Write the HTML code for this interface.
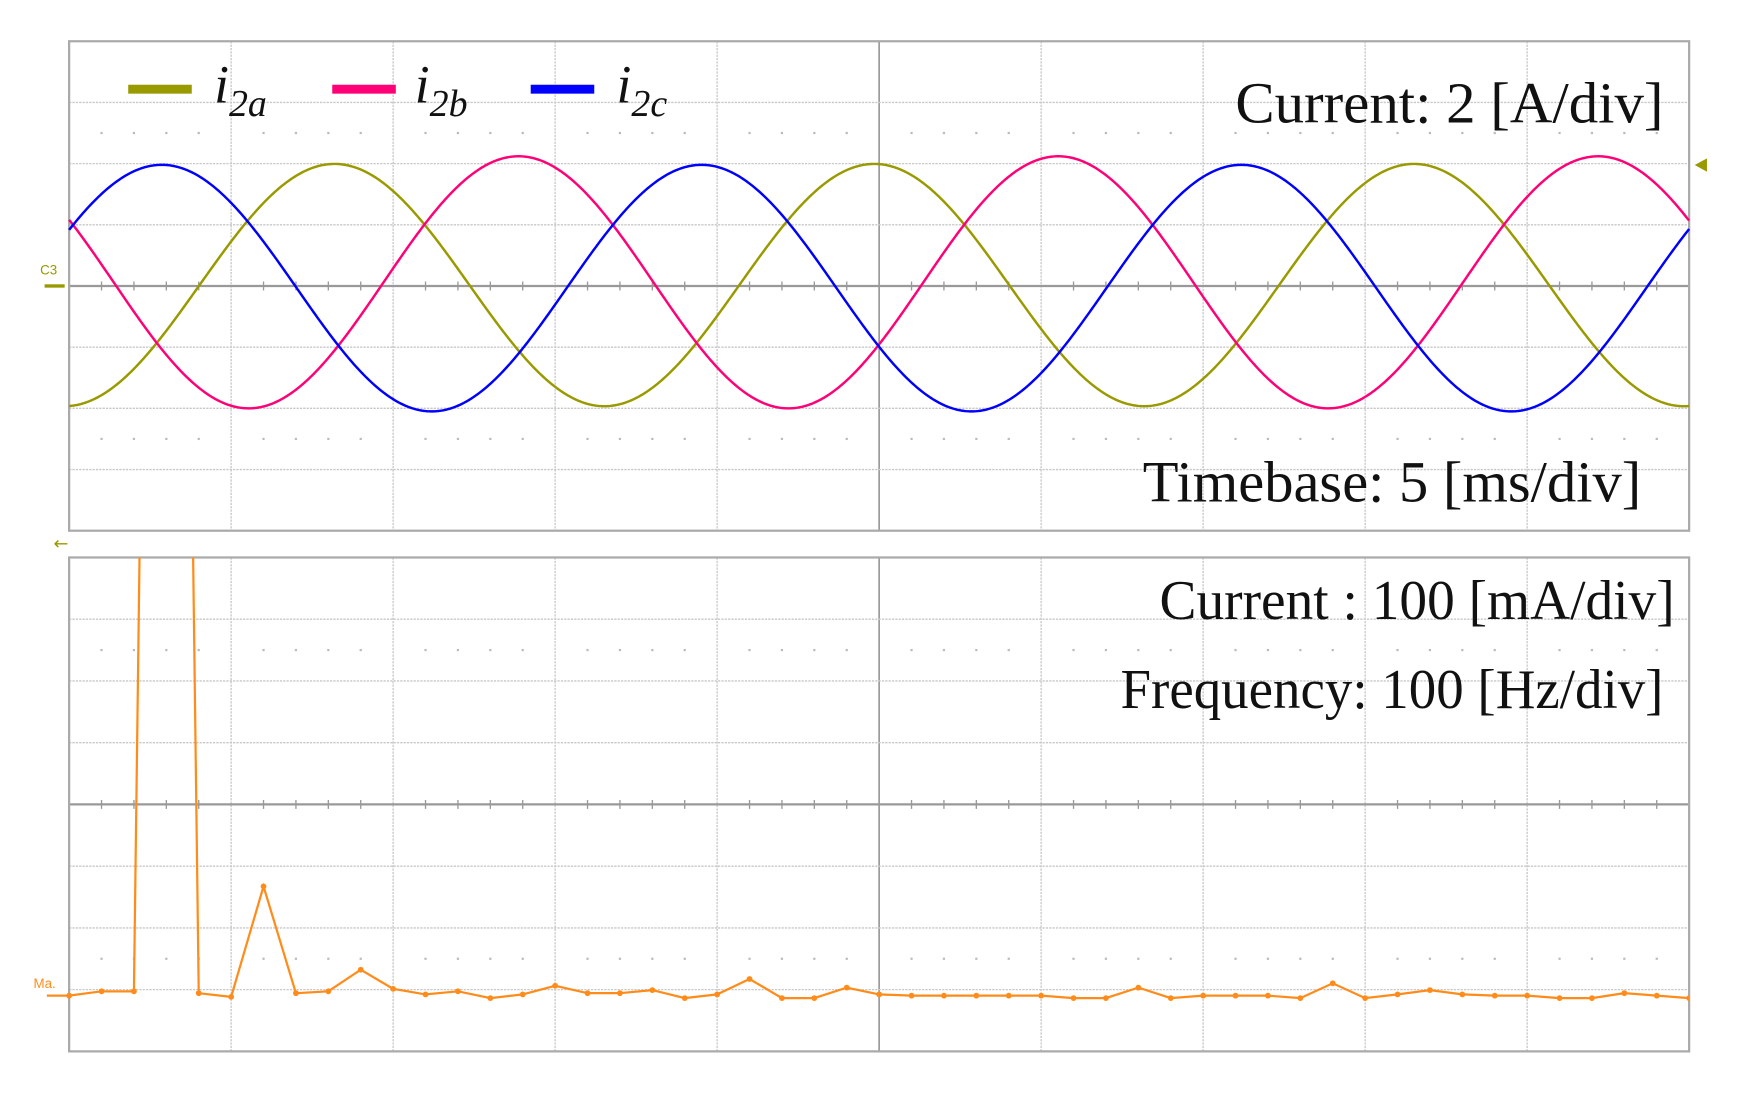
<!DOCTYPE html>
<html><head><meta charset="utf-8"><style>
html,body{margin:0;padding:0;background:#fff;}
svg{display:block;}
.t{font-family:"Liberation Serif",serif;fill:#111;}
</style></head><body>
<svg id="c" width="1746" height="1104" viewBox="0 0 1566 990.2" preserveAspectRatio="none" xmlns="http://www.w3.org/2000/svg">
<g id="grid"></g>
<g id="waves"></g>
<g id="fft"></g>
<g>
 <rect x="115" y="76" width="57" height="8" fill="#999900"/>
 <text class="t" x="192" y="92" font-size="48" font-style="italic">i<tspan font-size="34" dy="12">2a</tspan></text>
 <rect x="298" y="76" width="57" height="8" fill="#ff0077"/>
 <text class="t" x="372" y="92" font-size="48" font-style="italic">i<tspan font-size="34" dy="12">2b</tspan></text>
 <rect x="476" y="76" width="57" height="8" fill="#0000ff"/>
 <text class="t" x="553" y="92" font-size="48" font-style="italic">i<tspan font-size="34" dy="12">2c</tspan></text>
</g>
<text class="t" x="1108" y="110" font-size="52" textLength="384" lengthAdjust="spacingAndGlyphs">Current:  2 [A/div]</text>
<text class="t" x="1025" y="450" font-size="52" textLength="447" lengthAdjust="spacingAndGlyphs">Timebase:  5 [ms/div]</text>
<text class="t" x="1040" y="555" font-size="50" textLength="462" lengthAdjust="spacingAndGlyphs">Current : 100 [mA/div]</text>
<text class="t" x="1005" y="635" font-size="50" textLength="487" lengthAdjust="spacingAndGlyphs">Frequency: 100 [Hz/div]</text>
<text x="36" y="246" font-size="12" fill="#999900" font-family="Liberation Sans,sans-serif">C3</text>
<rect x="40" y="255" width="18" height="3" fill="#999900"/>
<polygon points="1520,148 1531,142 1531,154" fill="#999900"/>
<text x="48" y="493" font-size="16" fill="#999900" font-family="DejaVu Sans,sans-serif">←</text>
<text x="30" y="886" font-size="12" fill="#ff8c1a" font-family="Liberation Sans,sans-serif">Ma.</text>
</svg>
<script>
// time-domain signal parameters
const seriesNames = ['i2a','i2b','i2c'];
const seriesColors = ['#999900','#ff0077','#0000ff'];
const amplitudesA = [3.96, 4.12, 4.03];
const offsetsA = [0.03, 0.12, -0.07];
const peakTimesMs = [8.19, 13.87, 2.86];
const periodMs = [16.66];
// spectrum values, 20 Hz spacing, mA
const fftFreqHz = [0,20,40,60,80,100,120,140,160,180,200,220,240,260,280,300,320,340,360,380,400,420,440,460,480,500,520,540,560,580,600,620,640,660,680,700,720,740,760,780,800,820,840,860,880,900,920,940,960,980,1000];
const fftValuesmA = [9,16,16,4090,13,7,186,13,16,51,20,11,16,5,11,25,13,13,18,5,11,36,5,5,22,11,9,9,9,9,9,5,5,22,5,9,9,9,5,29,5,11,18,11,9,9,5,5,13,9,5];

const NS='http://www.w3.org/2000/svg';
function mk(tag,attrs,parent){const e=document.createElementNS(NS,tag);for(const k in attrs)e.setAttribute(k,attrs[k]);parent.appendChild(e);return e;}
const P1={x0:62,x1:1515,y0:37,y1:476}, P2={x0:62,x1:1515,y0:500,y1:943};
const grid=document.getElementById('grid');
function panel(P,name){
  const w=(P.x1-P.x0)/10,h=(P.y1-P.y0)/8,cy=(P.y0+P.y1)/2;
  for(let i=1;i<10;i++){const l=mk('line',{x1:P.x0+i*w,x2:P.x0+i*w,y1:P.y0,y2:P.y1,stroke:i==5?'#999':'#c8c8c8','stroke-width':i==5?1.5:1.2,'stroke-dasharray':i==5?'':'2 1'},grid);
    }
  for(let j=1;j<8;j++){const l=mk('line',{x1:P.x0,x2:P.x1,y1:P.y0+j*h,y2:P.y0+j*h,stroke:j==4?'#999':'#c8c8c8','stroke-width':j==4?2:1.2,'stroke-dasharray':j==4?'':'2 1'},grid);
    }
  for(let k=1;k<50;k++){if(k%5==0)continue;const x=P.x0+k*w/5;
    mk('line',{x1:x,x2:x,y1:cy-4,y2:cy+4,stroke:'#999','stroke-width':1.2},grid);
    mk('rect',{x:x-1,y:P.y0+1.5*h-1,width:2,height:2,fill:'#bbb'},grid);
    mk('rect',{x:x-1,y:P.y0+6.5*h-1,width:2,height:2,fill:'#bbb'},grid);}
  const b=mk('rect',{x:P.x0,y:P.y0,width:P.x1-P.x0,height:P.y1-P.y0,fill:'none',stroke:'#aaa','stroke-width':2},grid);
  
}
panel(P1,'time-panel');panel(P2,'spectrum-panel');
const tx=t=>P1.x0+t/50*(P1.x1-P1.x0);
const ty=a=>(P1.y0+P1.y1)/2-a/2*((P1.y1-P1.y0)/8);
const waves=document.getElementById('waves');
for(let s=0;s<3;s++){
  let d='';
  for(let i=0;i<=1000;i++){const t=i*0.05;const v=offsetsA[s]+amplitudesA[s]*Math.cos(2*Math.PI*(t-peakTimesMs[s])/periodMs[0]);
    d+=(i?'L':'M')+tx(t).toFixed(2)+' '+ty(v).toFixed(2);}
  const p=mk('path',{d:d,fill:'none',stroke:seriesColors[s],'stroke-width':2.2},waves);
  
  
}
const fx=f=>P2.x0+f/1000*(P2.x1-P2.x0);
const fy=v=>898-v/100*((P2.y1-P2.y0)/8);
const fft=document.getElementById('fft');
const clip=mk('clipPath',{id:'cp'},fft);mk('rect',{x:P2.x0-30,y:P2.y0,width:P2.x1-P2.x0+30,height:P2.y1-P2.y0},clip);
const g=mk('g',{'clip-path':'url(#cp)'},fft);
let d='M'+(P2.x0-20)+' '+fy(fftValuesmA[0]);
fftFreqHz.forEach((f,i)=>{d+='L'+fx(f).toFixed(2)+' '+fy(fftValuesmA[i]).toFixed(2);});
const ln=mk('path',{d:d,fill:'none',stroke:'#ff8c1a','stroke-width':2},g);


fftFreqHz.forEach((f,i)=>{const c=mk('circle',{cx:fx(f),cy:fy(fftValuesmA[i]),r:2.6,fill:'#ff8c1a'},g);
  
  });
</script>
</body></html>
